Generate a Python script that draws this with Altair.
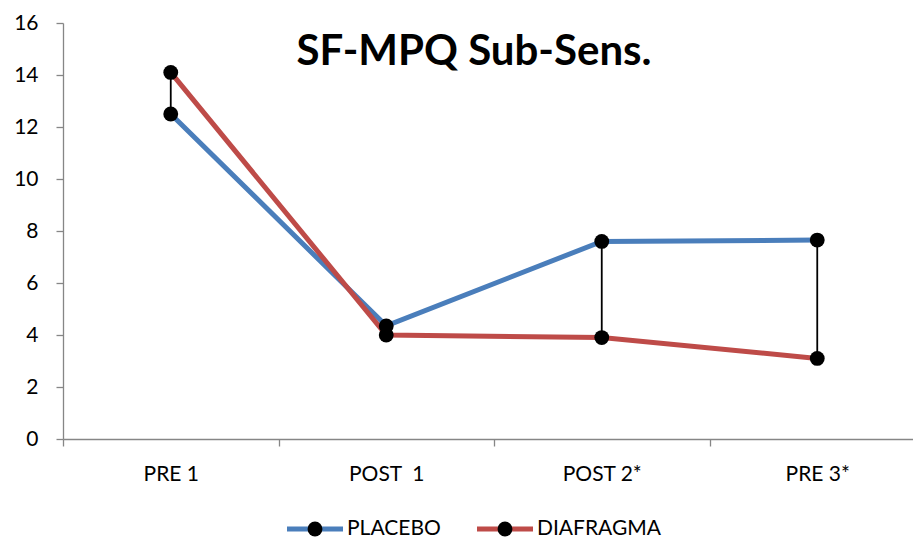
import altair as alt
import pandas as pd

# Chart data
categories = ["PRE 1", "POST  1", "POST 2*", "PRE 3*"]
series_names = ["PLACEBO", "DIAFRAGMA"]
placebo = [12.5, 4.35, 7.6, 7.65]
diafragma = [14.1, 4.0, 3.9, 3.1]
y_ticks = [0, 2, 4, 6, 8, 10, 12, 14, 16]
title_text = "SF-MPQ Sub-Sens."

# Styling
series_colors = ["#4A7EBB", "#BE4B48"]
axis_gray = "#868686"
font = "Lato"
marker_size = 220

long_df = pd.DataFrame({
    "category": categories * 2,
    "series": [series_names[0]] * len(categories) + [series_names[1]] * len(categories),
    "value": placebo + diafragma,
})
wide_df = pd.DataFrame({
    "category": categories,
    "lo": [min(a, b) for a, b in zip(placebo, diafragma)],
    "hi": [max(a, b) for a, b in zip(placebo, diafragma)],
})
legend_df = pd.DataFrame({"series": series_names})

x_enc = alt.X(
    "category:N",
    sort=categories,
    scale=alt.Scale(type="band", domain=categories, range=[0, 862],
                    paddingInner=0, paddingOuter=0),
    axis=alt.Axis(
        title=None, labelAngle=0, tickBand="extent", tickSize=7,
        tickColor=axis_gray, domainColor=axis_gray, tickWidth=1.3, domainWidth=1.3,
        labelFont=font, labelFontSize=21, labelColor="black", labelPadding=17,
        grid=False,
        # keep doubled spaces visible in SVG text
        labelExpr="replace(datum.label, '  ', ' \u00a0')",
    ),
)
y_scale = alt.Scale(domain=[0, 16], nice=False, zero=True)
y_axis = alt.Axis(
    values=y_ticks, title=None, grid=False, tickSize=7,
    tickColor=axis_gray, domainColor=axis_gray, tickWidth=1.3, domainWidth=1.3,
    labelFont=font, labelFontSize=21, labelColor="black", labelPadding=18,
)
color_enc = alt.Color(
    "series:N",
    scale=alt.Scale(domain=series_names, range=series_colors),
    legend=None,
)

# High-low connectors between the two series
hilo = alt.Chart(wide_df).mark_rule(color="black", strokeWidth=1.8).encode(
    x=x_enc,
    y=alt.Y("lo:Q", scale=y_scale, axis=y_axis),
    y2="hi:Q",
)
lines = alt.Chart(long_df).mark_line(strokeWidth=5).encode(
    x=x_enc,
    y=alt.Y("value:Q", scale=y_scale, axis=y_axis),
    color=color_enc,
    detail="series:N",
)
points = alt.Chart(long_df).mark_point(
    filled=True, color="black", size=marker_size, opacity=1, shape="circle"
).encode(
    x=x_enc,
    y=alt.Y("value:Q", scale=y_scale, axis=y_axis),
    detail="series:N",
)
main = alt.layer(hilo, lines, points)

# Legend drawn below the plot: coloured line, black marker, label
leg_x = alt.X(
    "series:N",
    sort=series_names,
    scale=alt.Scale(type="point", domain=series_names, range=[252, 442], padding=0),
    axis=None,
)
leg_y = alt.value(506)
leg_line = alt.Chart(legend_df).mark_rule(strokeWidth=5, xOffset=-28, x2Offset=28).encode(
    x=leg_x, x2="series:N", y=leg_y, color=color_enc
)
leg_dot = alt.Chart(legend_df).mark_point(
    filled=True, color="black", size=marker_size, opacity=1, shape="circle"
).encode(x=leg_x, y=leg_y)
leg_text = alt.Chart(legend_df).mark_text(
    align="left", baseline="middle", dx=32, font=font, fontSize=21, color="black"
).encode(x=leg_x, y=leg_y, text="series:N")

title = alt.Chart(pd.DataFrame({"t": [title_text]})).mark_text(
    font=font, fontSize=42, fontWeight="bold", color="black",
    align="center", baseline="alphabetic",
).encode(x=alt.value(411), y=alt.value(42), text="t:N")

chart = alt.layer(main, leg_line, leg_dot, leg_text, title).resolve_scale(
    x="independent"
).properties(
    width=850,
    height=416,
    autosize=alt.AutoSizeParams(type="none"),
    padding={"left": 63, "top": 23, "right": 0, "bottom": 101},
    background="white",
).configure_view(stroke=None)

chart.save("out.html", embed_options={"renderer": "svg", "actions": False})
